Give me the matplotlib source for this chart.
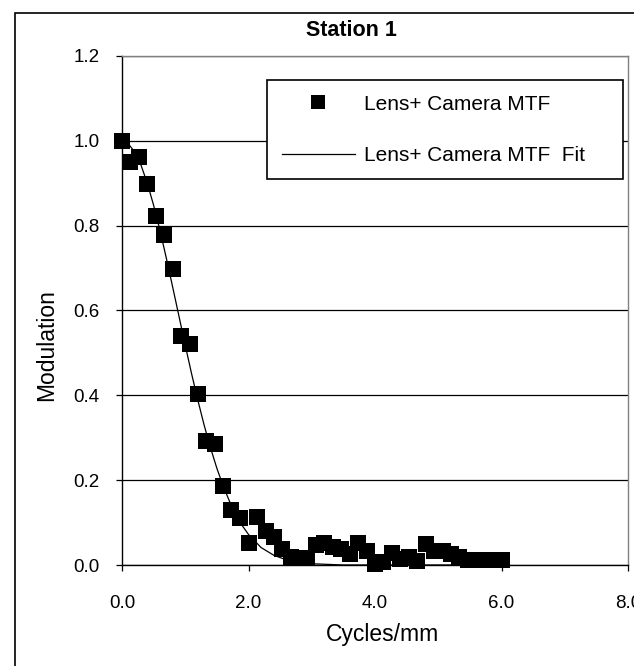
import matplotlib
matplotlib.use("Agg")
import matplotlib.pyplot as plt
from matplotlib.patches import Rectangle
from matplotlib.ticker import FormatStrFormatter, MultipleLocator

plt.rcParams["font.family"] = ["Liberation Sans", "DejaVu Sans"]

# measured MTF, lens + camera
cycles_mm = [0.00, 0.13, 0.27, 0.40, 0.53, 0.67, 0.80, 0.93, 1.07, 1.20,
             1.33, 1.47, 1.60, 1.73, 1.87, 2.00, 2.13, 2.27, 2.40, 2.53,
             2.67, 2.80, 2.93, 3.07, 3.20, 3.33, 3.47, 3.60, 3.73, 3.87,
             4.00, 4.13, 4.27, 4.40, 4.53, 4.67, 4.80, 4.93, 5.07, 5.20,
             5.33, 5.47, 5.60, 5.73, 5.87, 6.00]
modulation = [1.000, 0.949, 0.963, 0.898, 0.823, 0.778, 0.698, 0.541, 0.520, 0.402,
              0.292, 0.285, 0.186, 0.130, 0.111, 0.051, 0.114, 0.079, 0.067, 0.037,
              0.020, 0.017, 0.016, 0.046, 0.053, 0.042, 0.038, 0.026, 0.051, 0.033,
              0.002, 0.006, 0.028, 0.015, 0.020, 0.010, 0.050, 0.034, 0.034, 0.025,
              0.020, 0.012, 0.011, 0.011, 0.011, 0.011]

# fitted curve
fit_x = [0.0, 0.1, 0.2, 0.3, 0.4, 0.5, 0.6, 0.7, 0.8, 0.9, 1.0, 1.1, 1.2,
         1.3, 1.4, 1.5, 1.6, 1.7, 1.8, 1.9, 2.0, 2.2, 2.4, 2.6, 2.8, 3.0,
         3.5, 4.0, 5.0, 6.0]
fit_y = [1.000, 0.993, 0.974, 0.943, 0.900, 0.848, 0.789, 0.724, 0.656, 0.587,
         0.518, 0.451, 0.388, 0.329, 0.276, 0.228, 0.186, 0.150, 0.119, 0.093,
         0.072, 0.041, 0.023, 0.012, 0.006, 0.003, 0.000, 0.000, 0.000, 0.000]

W, H = 634, 666
fig = plt.figure(figsize=(W / 100, H / 100), dpi=100)
fig.patch.set_facecolor("white")

# chart frame
fig.patches.append(Rectangle((15 / W, -0.1), 1.2, 1.1 - 13 / H,
                             transform=fig.transFigure, fill=False,
                             edgecolor="black", linewidth=1.2))

ax = fig.add_axes([122 / W, 101 / H, 506 / W, 509 / H])

ax.plot(cycles_mm, modulation, linestyle="none", marker="s", ms=11.7,
        color="black", mew=0, clip_on=False, zorder=3,
        label="Lens+ Camera MTF")
ax.plot(fit_x, fit_y, color="black", lw=0.9, zorder=4,
        label="Lens+ Camera MTF  Fit")

ax.set_xlim(0, 8)
ax.set_ylim(0, 1.2)
ax.xaxis.set_major_locator(MultipleLocator(2.0))
ax.yaxis.set_major_locator(MultipleLocator(0.2))
ax.xaxis.set_major_formatter(FormatStrFormatter("%.1f"))
ax.yaxis.set_major_formatter(FormatStrFormatter("%.1f"))

ax.tick_params(axis="both", direction="out", length=4.3, width=0.9,
               labelsize=13.5, colors="black")
ax.tick_params(axis="x", pad=17)
ax.tick_params(axis="y", pad=12)

for side in ("left", "bottom"):
    ax.spines[side].set_color("black")
    ax.spines[side].set_linewidth(1.0)
for side in ("top", "right"):
    ax.spines[side].set_color("#808080")
    ax.spines[side].set_linewidth(1.0)

ax.yaxis.grid(True, color="black", linewidth=0.9)
ax.get_ygridlines()[-1].set_visible(False)
ax.get_ygridlines()[0].set_visible(False)
ax.set_axisbelow(True)

ax.set_xlabel("Cycles/mm", fontsize=16.5)
ax.xaxis.label.set_va("baseline")
ax.xaxis.set_label_coords(0.514, -0.150)
ax.set_ylabel("Modulation", fontsize=16.5)
ax.yaxis.label.set_va("center")
ax.yaxis.set_label_coords(-0.149, 0.432)

fig.text(0.555, 1 - 30 / H, "Station 1", fontsize=15.5, fontweight="bold",
         ha="center", va="center")

leg = ax.legend(loc="upper left", bbox_to_anchor=(0.287, 0.953, 0.7025, 0.0),
                mode="expand", borderaxespad=0, fontsize=15, frameon=True,
                fancybox=False, framealpha=1, edgecolor="black",
                borderpad=0.7, handlelength=3.5, handletextpad=0.45,
                labelspacing=1.55, markerscale=0.85)
leg.get_frame().set_linewidth(1.2)

fig.savefig("out.png", dpi=100, facecolor="white")
